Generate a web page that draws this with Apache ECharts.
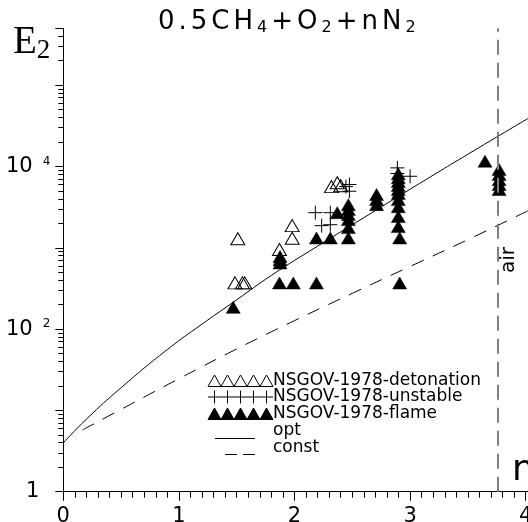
<!DOCTYPE html>
<html><head><meta charset="utf-8">
<script src="https://cdn.jsdelivr.net/npm/echarts@6/dist/echarts.min.js"></script>
<style>html,body{margin:0;padding:0;background:#fff}#c{width:528px;height:522px}</style>
</head><body><div id="c"></div>
<script>
// ---- data (n, E2) ----
const detonation = [[1.51,1290],[1.485,370],[1.55,370],[1.57,370],[1.87,950],[1.98,1870],[1.98,1310],[2.32,5650],[2.37,6300],[2.40,5800]];
const unstable = [[2.18,2700],[2.235,1870],[2.31,2700],[2.31,1920],[2.445,5650],[2.475,4960],[2.475,6000],[2.89,9600],[2.89,8200],[3.00,7570]];
const flame = [[1.47,185],[1.875,780],[1.875,710],[1.875,650],[1.87,369],[1.99,369],[2.19,369],[2.91,369],
  [2.19,1320],[2.31,1320],[2.466,1320],[2.91,1320],[2.37,2700],
  [2.466,3390],[2.466,2950],[2.466,2560],[2.466,2220],[2.466,1770],
  [2.71,4510],[2.71,3910],[2.71,3390],
  [2.898,8130],[2.898,7260],[2.898,6510],[2.898,5820],[2.898,5200],[2.898,4640],[2.898,3910],[2.898,3200],[2.898,2420],[2.898,1820],
  [3.648,11600],[3.77,9160],[3.77,7950],[3.77,6880],[3.77,5980],[3.77,5190]];
const optN = [0,0.2,0.5,0.9,1.2,1.5,1.8,2.2,2.6,3.0,3.5,4.02];
const optE = [3.98,7.8,19,56,115,229,457,1047,2344,5248,14125,38900];
const constN = [0.166,0.5,1.0,1.5,2.0,2.5,3.0,3.5,4.02];
const constE = [5.75,10.3,24.5,56.9,127,275,589,1259,2851];
const airN = 3.76;
const xTickLabels = ['0','1','2','3','4'];
const yLabelValues = [1,100,10000];
const yLabelExps = ['','2','4'];
const legendNames = ['NSGOV-1978-detonation','NSGOV-1978-unstable','NSGOV-1978-flame','opt','const'];

const X_MAX = 4.02, Y_MIN = 1, Y_MAX = 5e5;
const FONT = "'DejaVu Sans', sans-serif";

const minorLogs = [];
for (let k = 0; k <= 5; k++) for (let m = 2; m <= 9; m++) {
  const v = Math.log10(m) + k; if (v <= Math.log10(Y_MAX) + 1e-9) minorLogs.push(v);
}

function zip(a, b) { return a.map((v, i) => [v, b[i]]); }

// ---- legend drawn with graphic ----
const lg = [];
const lx0 = 214.5, lstep = 13, rowY = [381, 397, 414, 431, 447.5];
for (let i = 0; i < 5; i++) {
  const cx = lx0 + i * lstep;
  let cy = rowY[0];
  lg.push({type:'polygon', shape:{points:[[cx-6.5,cy+5.5],[cx+6.5,cy+5.5],[cx,cy-6]]}, style:{fill:'none', stroke:'#000', lineWidth:1}});
  cy = rowY[1];
  lg.push({type:'line', shape:{x1:cx-6.5,y1:cy,x2:cx+6.5,y2:cy}, style:{stroke:'#000', lineWidth:1}});
  lg.push({type:'line', shape:{x1:cx,y1:cy-6.5,x2:cx,y2:cy+6.5}, style:{stroke:'#000', lineWidth:1}});
  cy = rowY[2];
  lg.push({type:'polygon', shape:{points:[[cx-6.5,cy+5.5],[cx+6.5,cy+5.5],[cx,cy-6]]}, style:{fill:'#000', stroke:'#000', lineWidth:1}});
}
lg.push({type:'line', shape:{x1:215,y1:438.5,x2:255,y2:438.5}, style:{stroke:'#000', lineWidth:1}});
lg.push({type:'line', shape:{x1:225,y1:454.5,x2:237,y2:454.5}, style:{stroke:'#000', lineWidth:1}});
lg.push({type:'line', shape:{x1:243,y1:454.5,x2:255,y2:454.5}, style:{stroke:'#000', lineWidth:1}});
legendNames.forEach((t, i) => {
  lg.push({type:'text', style:{text:t, x:273, y:rowY[i], fill:'#000', font:"17px 'DejaVu Sans'",
    textAlign:'left', textVerticalAlign:'middle', align:'left', verticalAlign:'middle'}});
});

const titleChars = ['0','.','5','C','H','_4','+','O','_2','+','n','N','_2'];
const titleText = titleChars.map(c => c[0] === '_' ? '{s|' + c.slice(1) + '}' : '{a|' + c + '}').join('');

const chart = echarts.init(document.getElementById('c'), null, {renderer:'canvas'});
chart.setOption({
  animation: false,
  backgroundColor: '#fff',
  title: {
    text: titleText, left: 151, top: 2,
    textStyle: { fontWeight:'normal', rich: {
      a: {fontFamily: FONT, fontSize: 26, fontWeight:'normal', lineHeight: 30, color:'#000', verticalAlign:'middle', padding:[0,2,0,2]},
      s: {fontFamily: FONT, fontSize: 16, fontWeight:'normal', lineHeight: 18, color:'#000', verticalAlign:'middle', padding:[12,2,0,2]}
    }}
  },
  grid: { left: 63.3, top: 28.3, right: 0, bottom: 30.3, containLabel: false, outerBoundsMode: 'none' },
  xAxis: {
    type: 'value', min: 0, max: X_MAX, interval: 1,
    name: 'n', nameLocation: 'end', nameGap: -16,
    nameTextStyle: {fontFamily: FONT, fontSize: 36, color:'#000', align:'left', verticalAlign:'bottom', padding:[0,0,3,0]},
    axisLine: {onZero:false, lineStyle:{color:'#000', width:1}},
    axisTick: {length: 9, lineStyle:{color:'#000', width:1}},
    minorTick: {show:true, splitNumber:10, length:6, lineStyle:{color:'#000', width:1}},
    splitLine: {show:false}, minorSplitLine: {show:false},
    axisLabel: {color:'#000', fontFamily: FONT, fontSize: 21, margin: 14,
      formatter: v => (Math.abs(v - Math.round(v)) < 1e-9 && Math.round(v) < xTickLabels.length) ? xTickLabels[Math.round(v)] : ''}
  },
  yAxis: [{
    type: 'log', logBase: 10, min: Y_MIN, max: Y_MAX,
    name: '{e|E}{s|2}', nameLocation: 'end', nameGap: -14,
    nameTextStyle: {align:'right', verticalAlign:'middle', padding:[0,13,0,0], rich: {
      e: {fontFamily:"'Liberation Serif', serif", fontSize:39, lineHeight:39, color:'#000', verticalAlign:'middle'},
      s: {fontFamily:"'Liberation Serif', serif", fontSize:27, lineHeight:27, color:'#000', verticalAlign:'middle', padding:[18,0,0,0]}
    }},
    axisLine: {show:true, lineStyle:{color:'#000', width:1}},
    axisTick: {show:true, length: 8, lineStyle:{color:'#000', width:1}},
    splitLine: {show:false},
    axisLabel: {color:'#000', margin: 13,
      formatter: v => {
        for (let i = 0; i < yLabelValues.length; i++) {
          if (Math.abs(Math.log10(v) - Math.log10(yLabelValues[i])) < 1e-6) {
            return yLabelExps[i] === '' ? '{n|1}' : '{b|10}{p|' + yLabelExps[i] + '}';
          }
        }
        return '';
      },
      rich: {
        n: {fontFamily: FONT, fontSize: 21, color:'#000', padding:[0,11,0,0]},
        b: {fontFamily: FONT, fontSize: 21, lineHeight: 22, color:'#000'},
        p: {fontFamily: FONT, fontSize: 12, lineHeight: 12, color:'#000', verticalAlign:'top', padding:[0,0,0,10]}
      }
    }
  }, {
    type: 'value', min: 0, max: Math.log10(Y_MAX), position: 'left',
    axisLine: {show:false}, axisLabel: {show:false}, splitLine: {show:false},
    axisTick: {show:true, customValues: minorLogs, length: 5, lineStyle:{color:'#000', width:1}}
  }],
  graphic: [{type:'group', children: lg}],
  series: [
    {name: legendNames[3], type:'line', data: zip(optN, optE), smooth: true, symbol:'none',
     lineStyle:{color:'#000', width:1}, silent:true},
    {name: legendNames[4], type:'line', data: zip(constN, constE), smooth: true, symbol:'none',
     lineStyle:{color:'#000', width:1, type:[13,10]}, silent:true,
     markLine: {symbol:'none', silent:true, animation:false,
       lineStyle:{color:'#808080', width:2, type:[15,8]},
       label:{show:true, formatter:'air', position:'insideMiddleBottom', distance:1, color:'#000', fontFamily: FONT, fontSize:20},
       data:[{xAxis: airN}]}},
    {name: legendNames[0], type:'scatter', data: detonation, symbol:'triangle', symbolSize:[14,12],
     itemStyle:{color:'rgba(0,0,0,0)', borderColor:'#000', borderWidth:1, opacity:1}, silent:true},
    {name: legendNames[1], type:'scatter', data: unstable, symbol:'path://M0,7L14,7M7,0L7,14', symbolSize:14,
     itemStyle:{color:'rgba(0,0,0,0)', borderColor:'#000', borderWidth:1, opacity:1}, silent:true},
    {name: legendNames[2], type:'scatter', data: flame, symbol:'triangle', symbolSize:[14,12],
     itemStyle:{color:'#000', borderColor:'#000', borderWidth:0.5, opacity:1}, silent:true}
  ]
});
</script></body></html>
